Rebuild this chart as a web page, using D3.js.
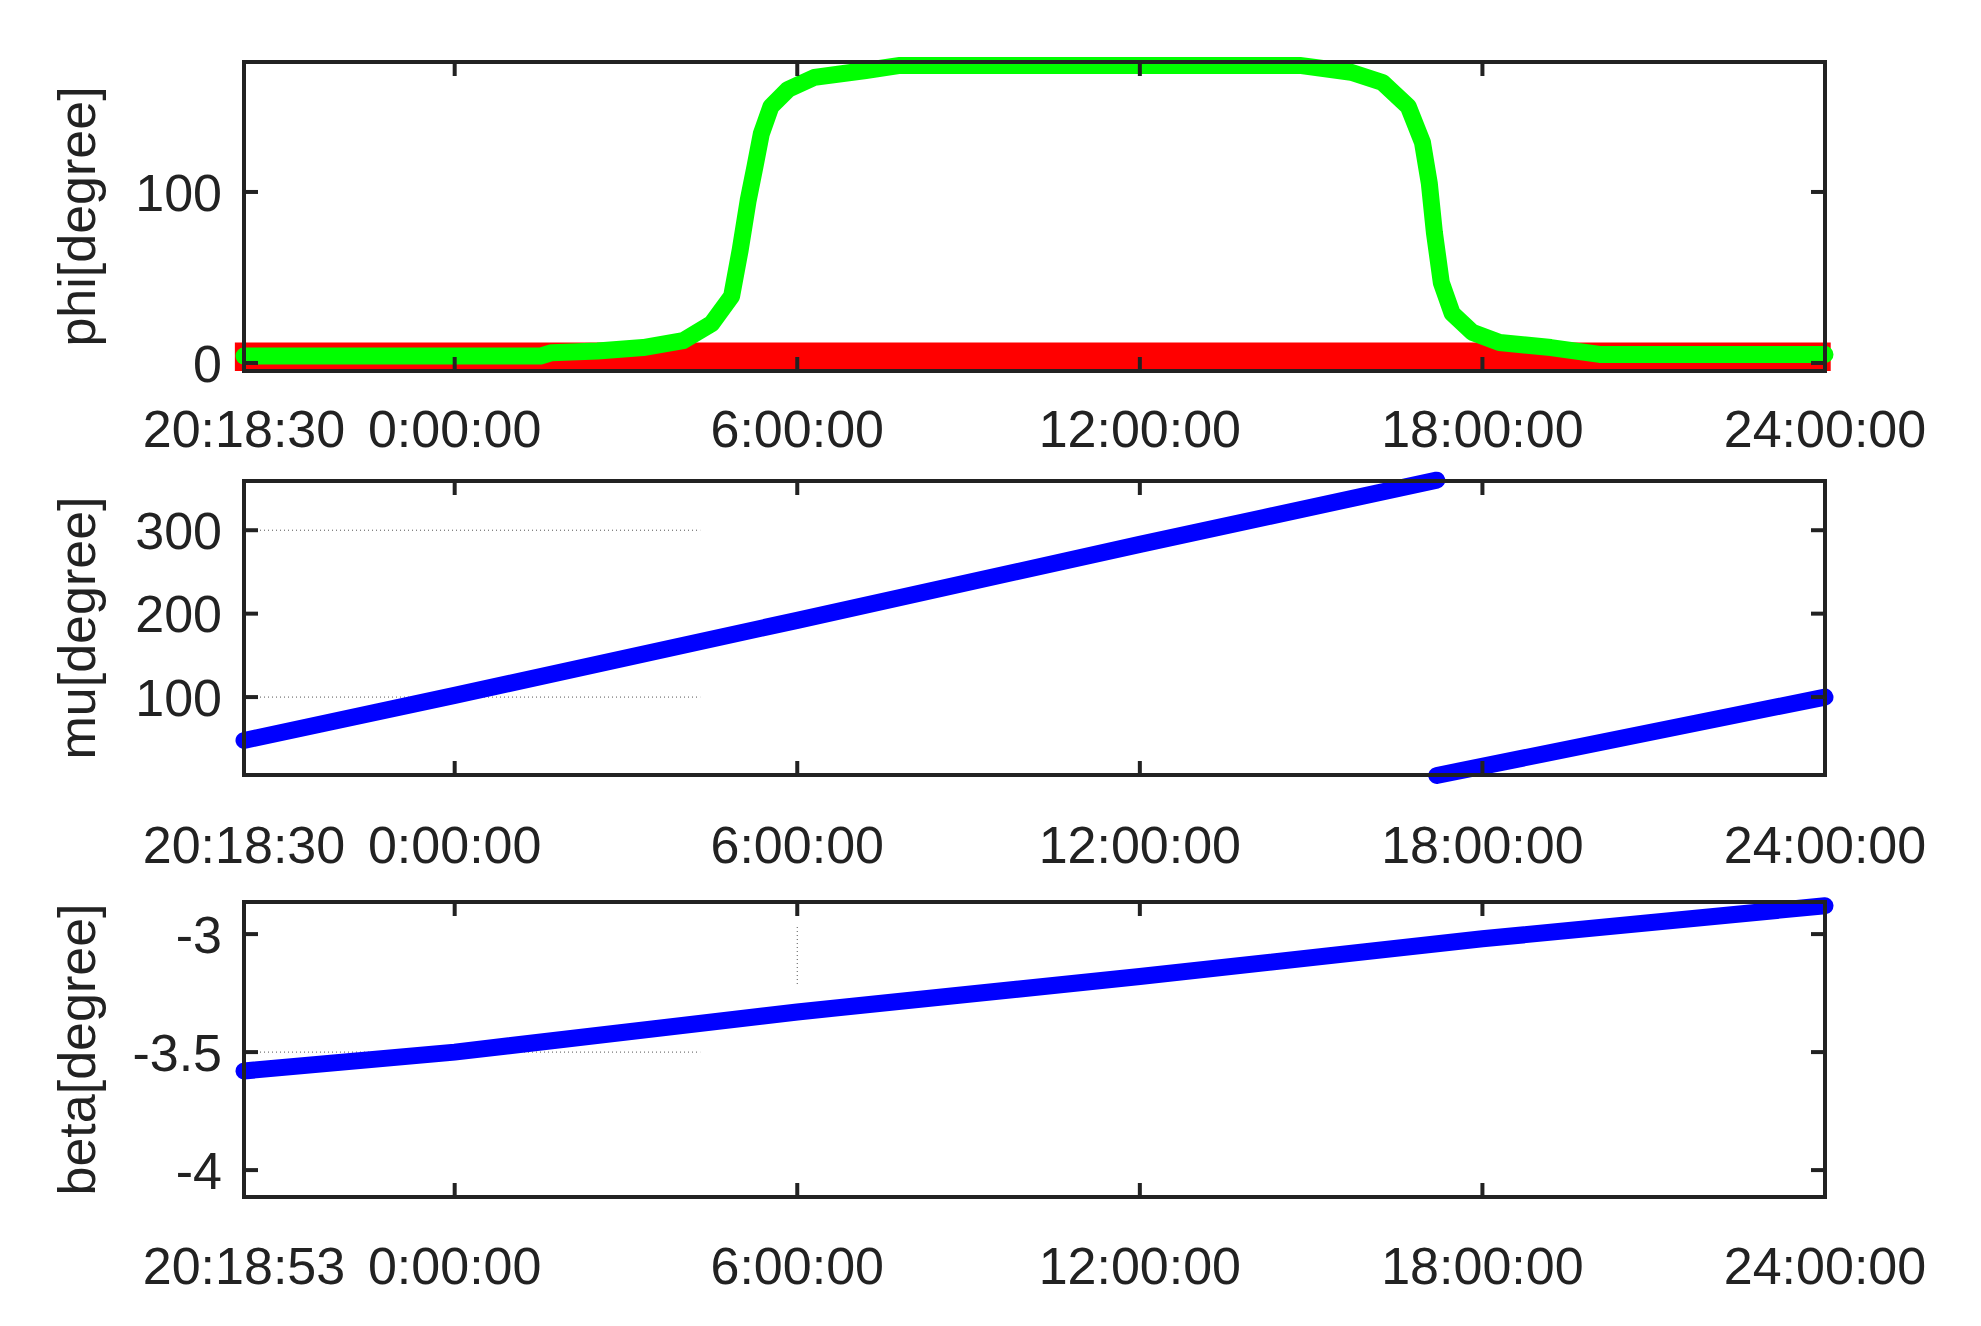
<!DOCTYPE html>
<html><head><meta charset="utf-8">
<script src="https://cdn.jsdelivr.net/npm/d3@7"></script>
<style>body{margin:0;background:#fff}text{font-family:"Liberation Sans",Arial,sans-serif;fill:#222}</style>
</head><body><svg id="c" width="1981" height="1326"></svg>
<script>
// time in hours relative to 0:00:00; start 20:18:30 previous day
const xTickHours = [0, 6, 12, 18, 24];
const xTickLabels = ["0:00:00", "6:00:00", "12:00:00", "18:00:00", "24:00:00"];
const startLabels = ["20:18:30", "20:18:30", "20:18:53"];
const startHour = -3.69;

const phiGreenH = [-3.69,0,1.5,1.7,2.5,3.3,4.0,4.5,4.85,5.0,5.14,5.26,5.37,5.54,5.84,6.3,7.2,7.8,14.8,15.7,16.25,16.7,16.95,17.07,17.16,17.28,17.47,17.82,18.3,19.2,20.05,24];
const phiGreenV = [4,4,4,6,7,9,13,23,39,66,95,115,134,150,160,167,171,174,174,170,164,150,129,105,76,47,29,18,12,9,5,5];
const phiRedH = [-3.85, 24.1];
const phiRedLow = [-4.7, -4.7];
const phiRedHigh = [12, 12];

const muH1 = [-3.69, 0, 6, 12, 17.2];
const muV1 = [48, 102, 192, 283, 360];
const muH2 = [17.2, 24];
const muV2 = [6, 100];

const betaH = [-3.69, 0, 6, 12, 18, 24];
const betaV = [-3.58, -3.50, -3.33, -3.18, -3.02, -2.88];

const panels = [
  {top:62, bottom:371, dom:[-4.7,176], ticks:[0,100], fmt:d=>d, title:"phi[degree]", lab:428},
  {top:481, bottom:775, dom:[6.6,359], ticks:[100,200,300], fmt:d=>d, title:"mu[degree]", lab:844},
  {top:902, bottom:1197, dom:[-4.114,-2.864], ticks:[-4,-3.5,-3], fmt:d=>d, title:"beta[degree]", lab:1265}
];
const L=244, R=1825;
const svg=d3.select("#c");
const x=d3.scaleLinear().domain([startHour,24]).range([L,R]);

panels.forEach((p,i)=>{
  const y=d3.scaleLinear().domain(p.dom).range([p.bottom,p.top]);
  p.y=y;
  const g=svg.append("g");
  const line=d3.line().x(d=>x(d[0])).y(d=>y(d[1]));
  if(i===0){
    const area=d3.area().x((d,j)=>x(phiRedH[j])).y0((d,j)=>y(phiRedLow[j])).y1((d,j)=>y(phiRedHigh[j]));
    g.append("path").datum(phiRedH).attr("d",area).attr("fill","#ff0000");
    g.append("path").datum(phiGreenH.map((h,j)=>[h,phiGreenV[j]])).attr("d",line)
      .attr("fill","none").attr("stroke","#00ff00").attr("stroke-width",17).attr("stroke-linejoin","round").attr("stroke-linecap","round");
  }
  if(i===1){
    [100,300].forEach(v=>g.append("line").attr("x1",x(startHour)).attr("x2",x(4.3)).attr("y1",y(v)).attr("y2",y(v))
      .attr("stroke","#555").attr("stroke-width",1).attr("stroke-dasharray","1,3"));
    [[muH1,muV1],[muH2,muV2]].forEach(([h,v])=>g.append("path").datum(h.map((t,j)=>[t,v[j]])).attr("d",line)
      .attr("fill","none").attr("stroke","#0000ff").attr("stroke-width",17).attr("stroke-linecap","round"));
  }
  if(i===2){
    g.append("line").attr("x1",x(startHour)).attr("x2",x(4.3)).attr("y1",y(-3.5)).attr("y2",y(-3.5))
      .attr("stroke","#555").attr("stroke-width",1).attr("stroke-dasharray","1,3");
    g.append("line").attr("x1",x(6)).attr("x2",x(6)).attr("y1",y(-2.97)).attr("y2",y(-3.22))
      .attr("stroke","#555").attr("stroke-width",1).attr("stroke-dasharray","1,3");
    g.append("path").datum(betaH.map((t,j)=>[t,betaV[j]])).attr("d",line)
      .attr("fill","none").attr("stroke","#0000ff").attr("stroke-width",17).attr("stroke-linecap","round");
  }
  // frame
  g.append("rect").attr("x",L).attr("y",p.top).attr("width",R-L).attr("height",p.bottom-p.top)
    .attr("fill","none").attr("stroke","#222").attr("stroke-width",4);
  // x ticks
  xTickHours.forEach(h=>{
    g.append("line").attr("x1",x(h)).attr("x2",x(h)).attr("y1",p.bottom).attr("y2",p.bottom-14).attr("stroke","#222").attr("stroke-width",4);
    g.append("line").attr("x1",x(h)).attr("x2",x(h)).attr("y1",p.top).attr("y2",p.top+14).attr("stroke","#222").attr("stroke-width",4);
  });
  p.ticks.forEach(v=>{
    g.append("line").attr("x1",L).attr("x2",L+14).attr("y1",y(v)).attr("y2",y(v)).attr("stroke","#222").attr("stroke-width",4);
    g.append("line").attr("x1",R).attr("x2",R-14).attr("y1",y(v)).attr("y2",y(v)).attr("stroke","#222").attr("stroke-width",4);
    g.append("text").attr("x",L-22).attr("y",y(v)).attr("dy","0.36em").attr("text-anchor","end")
      .attr("font-size",52).text(p.fmt(v));
  });
  // x labels
  g.append("text").attr("x",x(startHour)).attr("y",p.lab).attr("dy","0.36em").attr("text-anchor","middle").attr("font-size",52).text(startLabels[i]);
  xTickHours.forEach((h,j)=>g.append("text").attr("x",x(h)).attr("y",p.lab).attr("dy","0.36em")
    .attr("text-anchor","middle").attr("font-size",52).text(xTickLabels[j]));
  // title
  const cy=(p.top+p.bottom)/2;
  g.append("text").attr("transform",`translate(76,${cy}) rotate(-90)`).attr("dy","0.36em").attr("text-anchor","middle")
    .attr("font-size",52).text(p.title);
});
</script></body></html>
